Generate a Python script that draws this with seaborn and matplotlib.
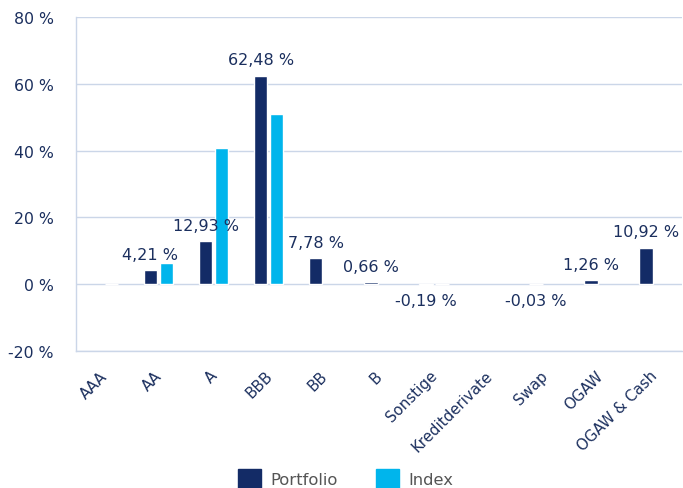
import numpy as np
import pandas as pd
import matplotlib.pyplot as plt
import matplotlib.transforms as mtransforms
import seaborn as sns

# Rating breakdown (values in %)
categories = ["AAA", "AA", "A", "BBB", "BB", "B", "Sonstige",
              "Kreditderivate", "Swap", "OGAW", "OGAW & Cash"]
portfolio = [np.nan, 4.21, 12.93, 62.48, 7.78, 0.66, -0.19,
             np.nan, -0.03, 1.26, 10.92]
index_vals = [0.0, 6.3, 40.8, 50.9, np.nan, np.nan, 0.0,
              np.nan, np.nan, np.nan, np.nan]
series_names = ["Portfolio", "Index"]
colors = ["#132B66", "#00B5EC"]
y_ticks = [-20, 0, 20, 40, 60, 80]

NAVY = "#1B2F5E"
GRID = "#CBD6E8"

df = pd.DataFrame({
    "Kategorie": categories * 2,
    "Serie": [series_names[0]] * len(categories) + [series_names[1]] * len(categories),
    "Wert": portfolio + index_vals,
})

sns.set_theme(style="white")
plt.rcParams["font.family"] = ["DejaVu Sans"]

fig = plt.figure(figsize=(6.83, 4.89), dpi=100)
ax = fig.add_axes([0.111, 0.280, 0.887, 0.683])

sns.barplot(data=df, x="Kategorie", y="Wert", hue="Serie", order=categories,
            hue_order=series_names, palette=colors, saturation=1, width=0.58, gap=0.15,
            edgecolor="white", linewidth=1.0, errorbar=None, ax=ax, zorder=3)

# labels on portfolio bars
for bar in ax.containers[0]:
    h = bar.get_height()
    if np.isnan(h) or h == 0:
        continue
    txt = f"{h:.2f}".replace(".", ",") + " %"
    x = bar.get_x() + bar.get_width() / 2
    if h >= 0:
        ax.annotate(txt, (x, h), xytext=(0, 6), textcoords="offset points",
                    ha="center", va="bottom", fontsize=11.5, color=NAVY, zorder=5)
    else:
        ax.annotate(txt, (x, h), xytext=(0, -6), textcoords="offset points",
                    ha="center", va="top", fontsize=11.5, color=NAVY, zorder=5)

ax.set_ylim(-20, 80)
ax.set_xlim(-0.5, len(categories) - 0.5)
ax.set_yticks(y_ticks)
ax.set_yticklabels([f"{t} %" for t in y_ticks], fontsize=11.3, color=NAVY)
ax.yaxis.grid(True, color=GRID, linewidth=1.0)
ax.set_axisbelow(True)
ax.tick_params(axis="y", length=0, pad=16)

ax.set_xticks(range(len(categories)))
ax.set_xticklabels(categories, rotation=45, ha="right", rotation_mode="anchor",
                   fontsize=10.8, color=NAVY)
ax.tick_params(axis="x", which="major", length=0, pad=12)
shift = mtransforms.ScaledTranslation(-4 / 100, 0, fig.dpi_scale_trans)
for lbl in ax.get_xticklabels():
    lbl.set_transform(lbl.get_transform() + shift)
ax.set_xticks(np.arange(-0.5, len(categories), 1.0), minor=True)
ax.tick_params(axis="x", which="minor", length=7, color=GRID, width=1.0)

ax.set_xlabel("")
ax.set_ylabel("")
for side in ["top", "right"]:
    ax.spines[side].set_visible(False)
for side in ["left", "bottom"]:
    ax.spines[side].set_color(GRID)
    ax.spines[side].set_linewidth(1.0)

ax.get_legend().remove()
handles = [plt.Rectangle((0, 0), 1, 1, color=c) for c in colors]
leg = fig.legend(handles, series_names, loc="lower center", bbox_to_anchor=(0.506, -0.03),
                 ncol=2, frameon=False, fontsize=11.8, handlelength=1.4, handleheight=1.4,
                 columnspacing=2.3, handletextpad=0.6)
for t in leg.get_texts():
    t.set_color("#555555")

fig.savefig("out.png", dpi=100)
